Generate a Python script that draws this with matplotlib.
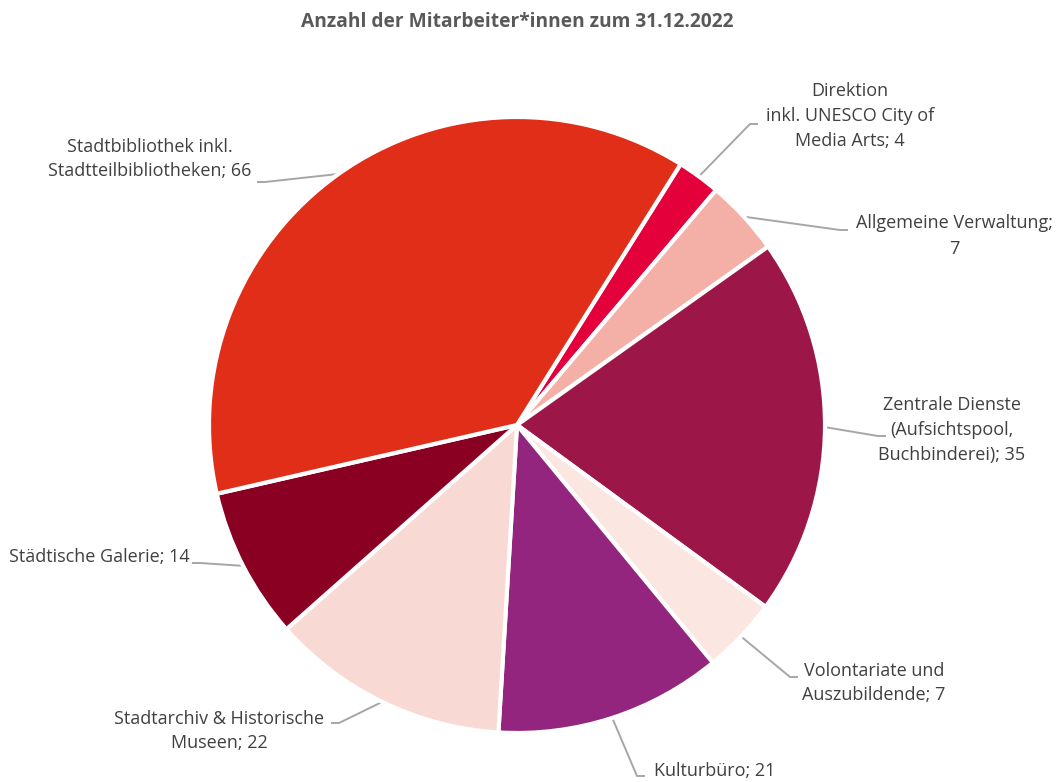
import numpy as np
import matplotlib
matplotlib.use("Agg")
import matplotlib.pyplot as plt
from matplotlib import font_manager

# Mitarbeiter*innen nach Bereich, im Uhrzeigersinn ab "Direktion"
labels = [
    "Direktion\ninkl. UNESCO City of\nMedia Arts; 4",
    "Allgemeine Verwaltung;\n7",
    "Zentrale Dienste\n(Aufsichtspool,\nBuchbinderei); 35",
    "Volontariate und\nAuszubildende; 7",
    "Kulturbüro; 21",
    "Stadtarchiv & Historische\nMuseen; 22",
    "Städtische Galerie; 14",
    "Stadtbibliothek inkl.\nStadtteilbibliotheken; 66",
]
values = [4, 7, 35, 7, 21, 22, 14, 66]
colors = ["#E4003B", "#F4B0A7", "#9C1748", "#FBE6E2",
          "#94257F", "#F9D9D3", "#8A0022", "#E02E18"]

# label layout in pixels from top-left: (elbow x, elbow y, text x, text y, ha)
label_pos = [
    (750, 124, 850, 116, "center"),
    (840, 230, 954, 236, "center"),
    (878, 436, 952, 430, "center"),
    (790, 677, 874, 683, "center"),
    (637, 776, 654, 771, "left"),
    (339, 723, 219, 731, "center"),
    (200, 563, 190, 557, "right"),
    (265, 182, 150, 159, "center"),
]

avail = {f.name for f in font_manager.fontManager.ttflist}
family = next((f for f in ["Liberation Sans Narrow", "Open Sans", "Noto Sans"] if f in avail), "DejaVu Sans")
plt.rcParams["font.family"] = family

W, H = 1056, 782
cx, cy, R = 517, H - 425, 308

fig = plt.figure(figsize=(W / 100, H / 100), dpi=100)
ax = fig.add_axes([0, 0, 1, 1])

wedges, _ = ax.pie(values, colors=colors, startangle=57.9, counterclock=False,
                   center=(cx, cy), radius=R, frame=True,
                   wedgeprops=dict(edgecolor="white", linewidth=3))
ax.set_xlim(0, W)
ax.set_ylim(0, H)
ax.set_aspect("equal")
ax.axis("off")

for w, lab, (ex, ey, tx, ty, ha) in zip(wedges, labels, label_pos):
    mid = np.deg2rad((w.theta1 + w.theta2) / 2)
    sx = cx + R * np.cos(mid)
    sy = cy + R * np.sin(mid)
    hx = ex + (8 if tx > ex else -8)
    ax.plot([sx, ex, hx], [sy, H - ey, H - ey], color="#A6A6A6", lw=1.4,
            solid_capstyle="butt", zorder=0)
    ax.text(tx, H - ty, lab, ha=ha, va="center", fontsize=13, color="#404040",
            linespacing=1.5)

ax.text(517, H - 22, "Anzahl der Mitarbeiter*innen zum 31.12.2022", ha="center", va="center",
        fontsize=13.8, fontweight="bold", color="#595959")

fig.savefig("out.png", dpi=100)
